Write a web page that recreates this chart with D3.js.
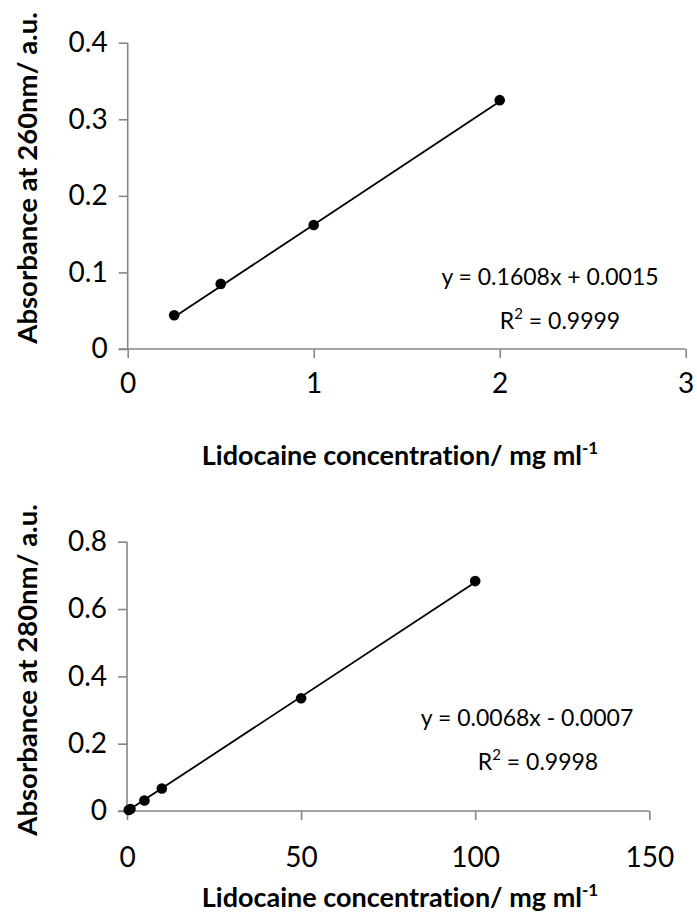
<!DOCTYPE html>
<html>
<head>
<meta charset="utf-8">
<script src="https://cdn.jsdelivr.net/npm/d3@7"></script>
<style>
  html, body { margin: 0; padding: 0; background: #fff; }
  svg { display: block; }
  text { font-family: Lato, "Open Sans", sans-serif; fill: #000; font-variant-ligatures: none; font-feature-settings: "liga" 0; }
</style>
</head>
<body>
<svg id="chart" width="697" height="921"></svg>
<script>
// Calibration at 260 nm (low concentration range)
const conc260 = [0.25, 0.5, 1, 2];
const abs260 = [0.044, 0.085, 0.162, 0.325];
const fit260 = { slope: 0.1608, intercept: 0.0015 };
const eq260 = "y = 0.1608x + 0.0015";
const r2_260 = "0.9999";
const xTicks260 = [0, 1, 2, 3];
const yTicks260 = [0, 0.1, 0.2, 0.3, 0.4];

// Calibration at 280 nm (high concentration range)
const conc280 = [0.5, 1, 5, 10, 50, 100];
const abs280 = [0.003, 0.006, 0.031, 0.067, 0.335, 0.683];
const fit280 = { slope: 0.0068, intercept: -0.0007 };
const eq280 = "y = 0.0068x - 0.0007";
const r2_280 = "0.9998";
const xTicks280 = [0, 50, 100, 150];
const yTicks280 = [0, 0.2, 0.4, 0.6, 0.8];

const xTitle = "Lidocaine concentration/ mg ml";
const yTitle260 = "Absorbance at 260nm/ a.u.";
const yTitle280 = "Absorbance at 280nm/ a.u.";

const svg = d3.select("#chart");
const axisColor = "#868686";

function drawPanel(opt) {
  const g = svg.append("g");
  const x = d3.scaleLinear().domain(opt.xDomain).range([opt.left, opt.right]);
  const y = d3.scaleLinear().domain(opt.yDomain).range([opt.bottom, opt.top]);

  // y axis
  const yAxis = g.append("g")
    .attr("transform", `translate(${opt.left},0)`)
    .call(d3.axisLeft(y).tickValues(opt.yTicks).tickSize(9).tickPadding(11)
      .tickFormat(d => d === 0 ? "0" : d3.format(".1f")(d)));
  // x axis
  const xAxis = g.append("g")
    .attr("transform", `translate(0,${opt.bottom})`)
    .call(d3.axisBottom(x).tickValues(opt.xTicks).tickSize(9).tickPadding(opt.xPad)
      .tickFormat(d3.format("d")));

  [yAxis, xAxis].forEach(a => {
    a.select(".domain").attr("stroke", axisColor).attr("stroke-width", 1.6);
    a.selectAll(".tick line").attr("stroke", axisColor).attr("stroke-width", 1.6);
    a.selectAll(".tick text").style("font-size", "28px").attr("fill", "#000");
  });
  yAxis.select(".domain").attr("d", `M0,${opt.top}H0V${opt.bottom}`);
  xAxis.select(".domain").attr("d", `M${opt.left},0H${opt.right}`);
  // the x axis extends to the left under the y axis tick at zero
  xAxis.append("line").attr("x1", opt.left - 9).attr("x2", opt.left)
    .attr("stroke", axisColor).attr("stroke-width", 1.6);

  // linear trendline spanning the measured range
  const xs = d3.extent(opt.xs);
  g.append("line")
    .attr("x1", x(xs[0])).attr("y1", y(opt.fit.slope * xs[0] + opt.fit.intercept))
    .attr("x2", x(xs[1])).attr("y2", y(opt.fit.slope * xs[1] + opt.fit.intercept))
    .attr("stroke", "#000").attr("stroke-width", 1.8);

  // data points
  g.selectAll("circle.pt").data(opt.xs.map((v, i) => [v, opt.ys[i]]))
    .join("circle").attr("class", "pt")
    .attr("cx", d => x(d[0])).attr("cy", d => y(d[1])).attr("r", 5.3)
    .attr("fill", "#000");

  // equation and R²
  g.append("text").attr("x", opt.eqX).attr("y", opt.eqY)
    .attr("text-anchor", "middle").style("font-size", "23px").text(opt.eq);
  const r = g.append("text").attr("x", opt.rX).attr("y", opt.eqY + 44)
    .attr("text-anchor", "middle").style("font-size", "23px");
  r.append("tspan").text("R");
  r.append("tspan").attr("dy", -10).style("font-size", "15px").text("2");
  r.append("tspan").attr("dy", 10).text(" = " + opt.r2);

  // axis titles
  const xt = g.append("text").attr("x", opt.xTitleX).attr("y", opt.xTitleY)
    .attr("text-anchor", "middle").style("font-size", "27px").style("font-weight", "bold");
  xt.append("tspan").text(xTitle);
  xt.append("tspan").attr("dy", -11).style("font-size", "17px").text("-1");

  g.append("text")
    .attr("transform", `translate(${opt.yTitleX},${opt.yTitleY}) rotate(-90)`)
    .attr("text-anchor", "middle").style("font-size", "27.5px").style("font-weight", "bold")
    .text(opt.yTitle);
}

drawPanel({
  left: 127.7, right: 685.7, top: 42.7, bottom: 349,
  xDomain: [0, 3], yDomain: [0, 0.4], xTicks: xTicks260, yTicks: yTicks260, xPad: 15,
  xs: conc260, ys: abs260, fit: fit260, eq: eq260, r2: r2_260,
  eqX: 550, eqY: 285, rX: 560,
  xTitleX: 400, xTitleY: 465, yTitleX: 37, yTitleY: 178, yTitle: yTitle260
});

drawPanel({
  left: 127, right: 649.3, top: 541.7, bottom: 811,
  xDomain: [0, 150], yDomain: [0, 0.8], xTicks: xTicks280, yTicks: yTicks280, xPad: 27,
  xs: conc280, ys: abs280, fit: fit280, eq: eq280, r2: r2_280,
  eqX: 527, eqY: 726, rX: 538,
  xTitleX: 400, xTitleY: 907, yTitleX: 37, yTitleY: 670, yTitle: yTitle280
});
</script>
</body>
</html>
